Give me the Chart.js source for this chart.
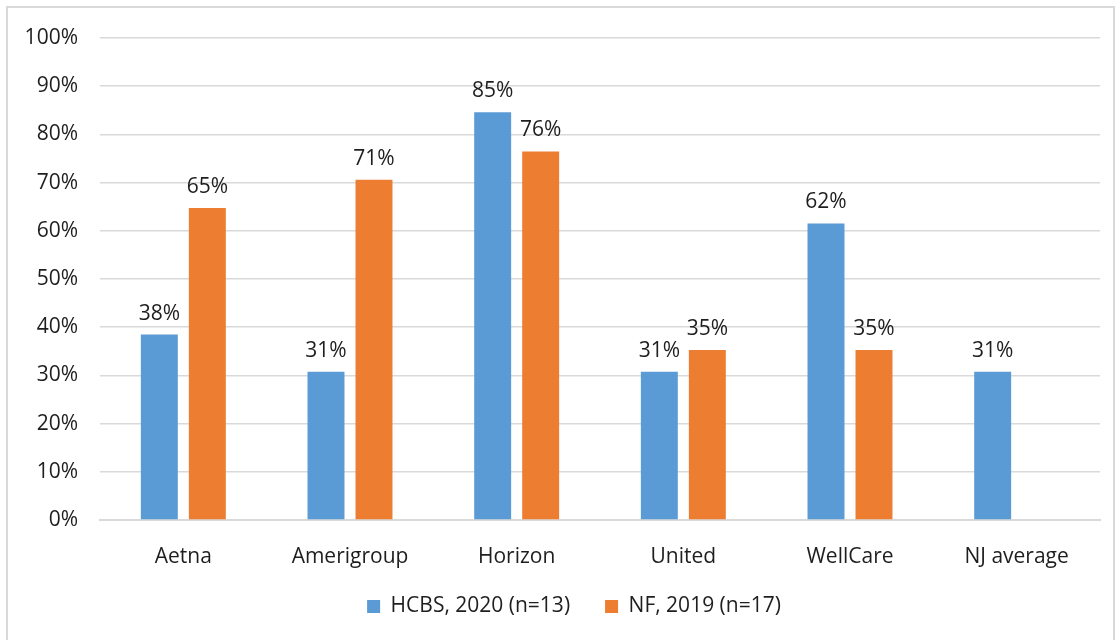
<!DOCTYPE html>
<html>
<head>
<meta charset="utf-8">
<script src="https://cdn.jsdelivr.net/npm/chart.js@4"></script>
<style>
  body { margin: 0; background: #fff; }
  #frame { position: absolute; left: 6px; top: 6px; width: 1105px; height: 660px; border: 2px solid #d9d9d9; }
  #wrap { position: absolute; left: 0; top: 0; width: 1120px; height: 640px; }
</style>
</head>
<body>
<div id="frame"></div>
<div id="wrap"><canvas id="barChart" width="1120" height="640"></canvas></div>
<script>
// chart data (percent)
const categories = ['Aetna', 'Amerigroup', 'Horizon', 'United', 'WellCare', 'NJ average']
const hcbsValues = [38.46, 30.77, 84.62, 30.77, 61.54, 30.77]
const nfValues = [64.71, 70.59, 76.47, 35.29, 35.29, null]
const seriesNames = ['HCBS, 2020 (n=13)', 'NF, 2019 (n=17)']

// colors
const blue = '#5B9BD5'
const orange = '#ED7D31'
const gridColor = '#d9d9d9'
const textColor = '#1e1e1e'
const fontFamily = '"Open Sans", "Noto Sans", sans-serif'
const fontSize = 21

// draws the % value above every bar
const barLabels = {
    id: 'barLabels',
    afterDatasetsDraw(chart) {
        const ctx = chart.ctx
        ctx.save()
        ctx.font = fontSize + 'px ' + fontFamily
        ctx.fillStyle = textColor
        ctx.textAlign = 'center'
        ctx.textBaseline = 'middle'
        chart.data.datasets.forEach((ds, i) => {
            chart.getDatasetMeta(i).data.forEach((bar, j) => {
                if (ds.data[j] == null) return
                ctx.fillText(Math.round(ds.data[j]) + '%', bar.x, bar.y - 21)
            })
        })
        ctx.restore()
    }
}

// legend needs big item spacing (padding) but that also pushes it down, so lift it back up
// and nudge it right a bit so it sits under the plot like the original
const moveLegend = {
    id: 'moveLegend',
    afterLayout(chart) {
        const lift = 13
        const nudge = 24
        chart.legend.top -= lift
        chart.legend.bottom -= lift
        chart.legend.left += nudge
        chart.legend.right += nudge
    }
}

let barChart = new Chart(document.getElementById('barChart').getContext('2d'), {
    type: 'bar',
    data: {
        labels: categories,
        datasets: [{
            label: seriesNames[0],
            data: hcbsValues,
            backgroundColor: blue,
            categoryPercentage: 0.576,
            barPercentage: 0.77
        }, {
            label: seriesNames[1],
            data: nfValues,
            backgroundColor: orange,
            categoryPercentage: 0.576,
            barPercentage: 0.77
        }]
    },
    options: {
        responsive: false,
        animation: false,
        devicePixelRatio: 1,
        layout: {
            padding: { top: 38, right: 20, bottom: 0, left: 0 }
        },
        plugins: {
            legend: {
                position: 'bottom',
                labels: {
                    boxWidth: 13,
                    boxHeight: 13,
                    padding: 35,
                    color: textColor,
                    font: { family: fontFamily, size: fontSize }
                }
            },
            tooltip: { enabled: false }
        },
        scales: {
            x: {
                grid: { display: false },
                border: { color: gridColor, width: 2 },
                ticks: {
                    color: textColor,
                    padding: 16,
                    font: { family: fontFamily, size: fontSize }
                },
                afterFit: scale => { scale.height = 54 }
            },
            y: {
                min: 0,
                max: 100,
                grid: { color: gridColor, lineWidth: 1.5, drawTicks: false },
                border: { display: false },
                ticks: {
                    stepSize: 10,
                    color: textColor,
                    padding: 22,
                    font: { family: fontFamily, size: fontSize },
                    callback: v => v + '%'
                },
                afterFit: scale => { scale.width = 100 }
            }
        }
    },
    plugins: [barLabels, moveLegend]
})
</script>
</body>
</html>
